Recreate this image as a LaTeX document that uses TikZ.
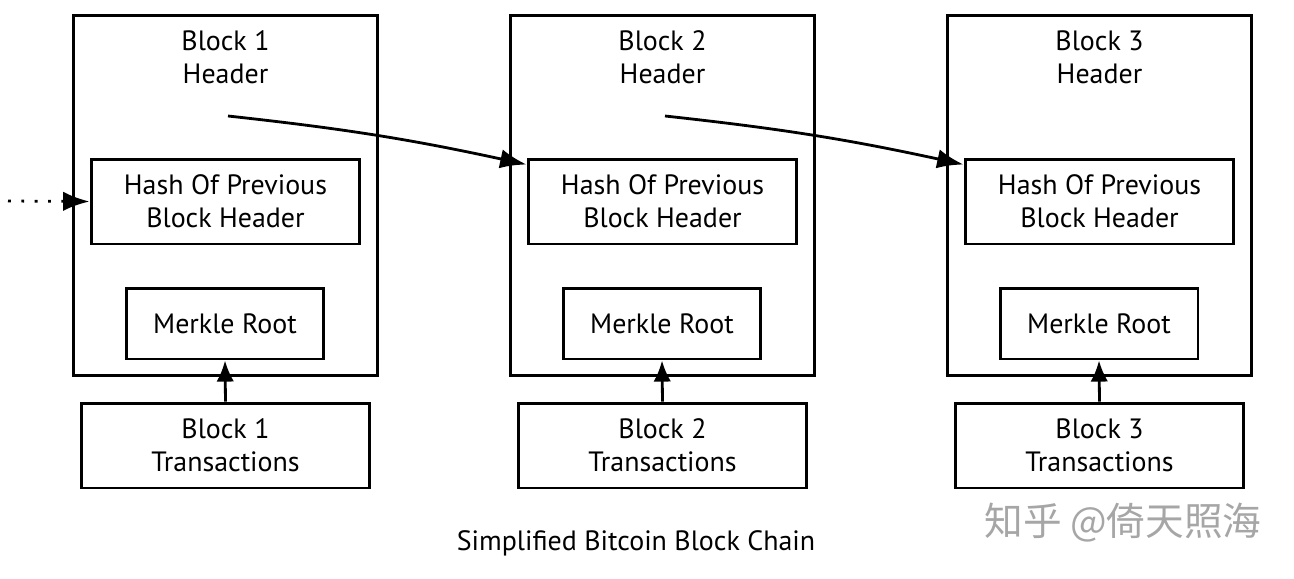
\documentclass[tikz,border=0pt]{standalone}
\usepackage{fontspec}
\setmainfont{PT Sans}
\newfontfamily\cjkfont{Noto Sans CJK SC}
\usetikzlibrary{arrows.meta, positioning, calc}

\begin{document}
\begin{tikzpicture}[x=0.02cm, y=-0.02cm,
		every node/.style={font=\fontsize{15.9}{18.7}\selectfont, align=center, inner sep=0pt},
		blockbox/.style={draw, line width=1.7pt, minimum width=6.1cm, minimum height=7.22cm},
		innerbox/.style={draw, line width=1.7pt, minimum height=1.7cm},
		ptr/.style={line width=1.6pt, -{Latex[length=15pt, width=11pt]}}]
	\useasboundingbox (0,0) rectangle (1294,578);

	% the three blocks
	\foreach \i in {1,2,3} {
		\pgfmathsetmacro{\off}{437*(\i-1)}
		\node[blockbox] (blk\i) at (225.5+\off,195.5) {};
		\node (hdr\i) at (225.5+\off,57) {Block \i\\Header};
		\node[innerbox, minimum width=5.38cm] (hash\i) at (225.5+\off,201.5) {Hash Of Previous\\Block Header};
		\node[innerbox, minimum width=3.96cm, minimum height=1.42cm] (root\i) at (225+\off,323.5) {Merkle Root};
		\node[innerbox, minimum width=5.78cm] (tx\i) at (225.5+\off,445.5) {Block \i\\Transactions};
		\coordinate (src\i) at (228+\off,116);
		\draw[line width=1.6pt, -{Latex[length=12pt, width=10pt]}] (tx\i.north) -- (root\i.south);
	}

	% links to previous header
	\draw[ptr] (src1) to[bend left=3] ([yshift=-0.14cm]hash2.north west);
	\draw[ptr] (src2) to[bend left=3] ([yshift=-0.14cm]hash3.north west);

	% earlier blocks
	\coordinate (prev) at (8,201);
	\draw[line width=1.6pt, dash pattern=on 1.6pt off 6pt, -{Latex[length=15pt, width=11pt]}] (prev) -- (hash1.west);

	\node (caption) at (636,543) {Simplified Bitcoin Block Chain};
	\node[font=\cjkfont\fontsize{22}{26}\selectfont, text=black!35] (mark) at (1123,523) {知乎 @倚天照海};
\end{tikzpicture}
\end{document}
